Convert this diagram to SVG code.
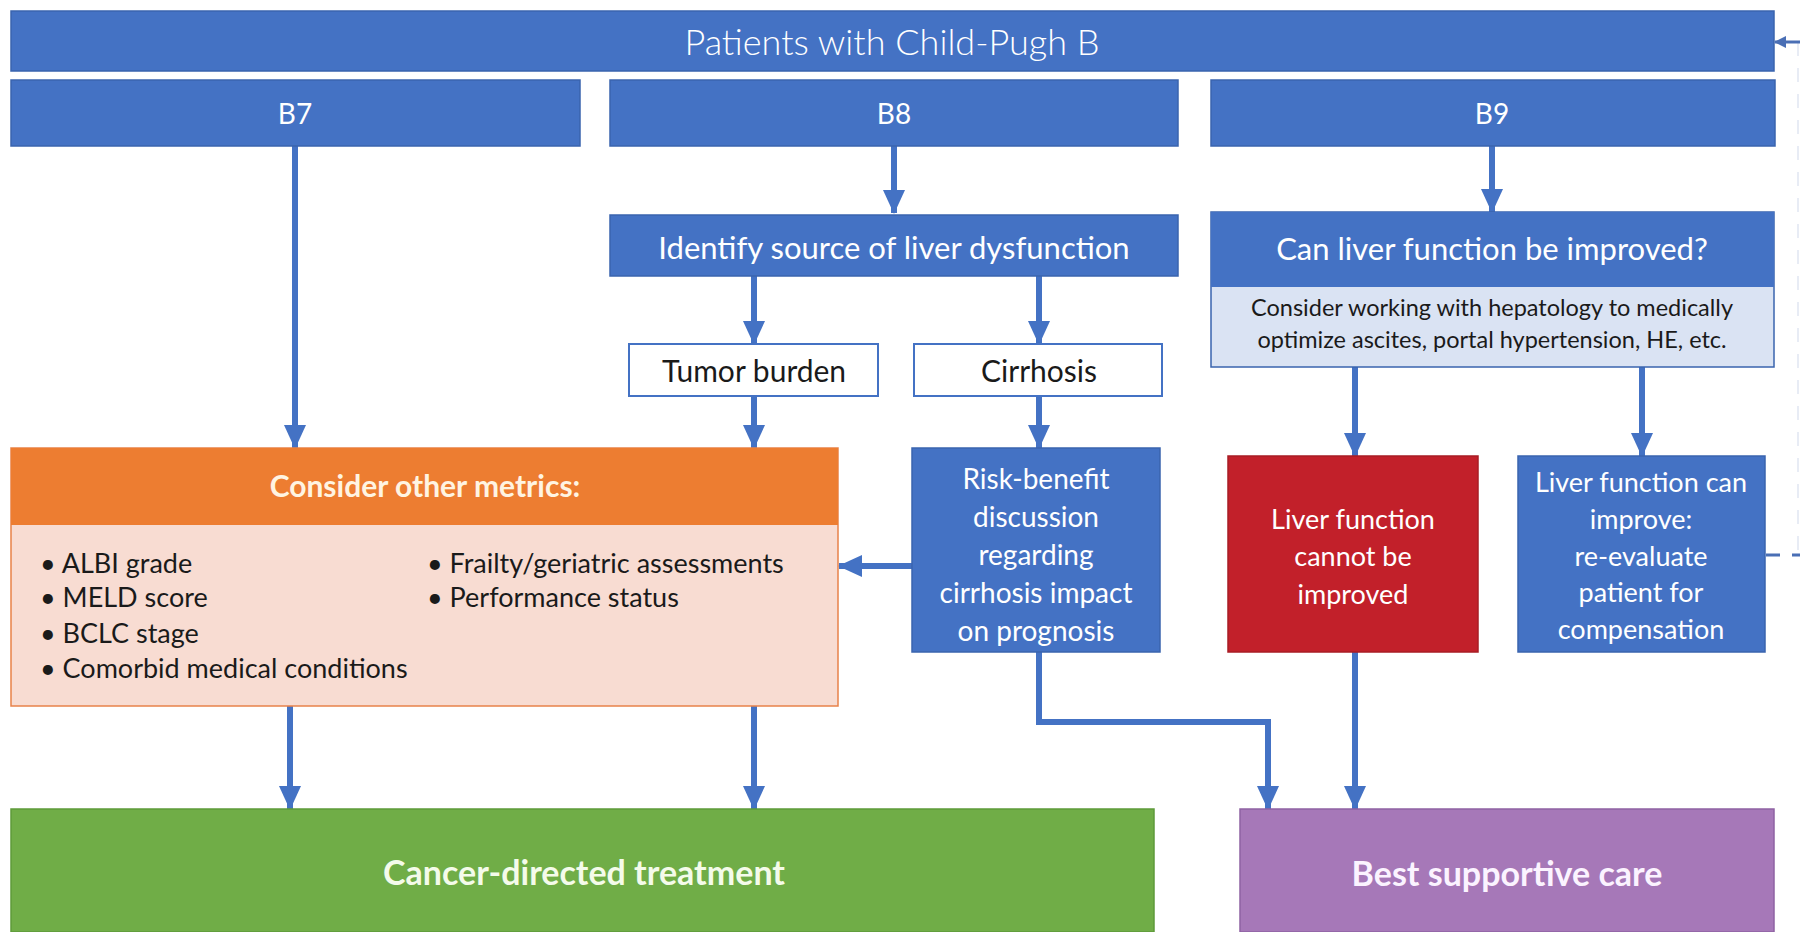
<svg xmlns="http://www.w3.org/2000/svg" width="1800" height="932" viewBox="0 0 1800 932">
<style>
text{font-family:Lato,"Open Sans","Liberation Sans",sans-serif;}
.blue{fill:#4472C4;stroke:#3A64AE;stroke-width:1.5;}
.wbox{fill:#ffffff;stroke:#4472C4;stroke-width:2;}
.lt{fill:#ffffff;text-anchor:middle;}
.dk{fill:#1a1a1a;text-anchor:middle;}
.bul{fill:#1a1a1a;font-size:27px;}
.conn{stroke:#4472C4;stroke-width:6;fill:none;}
</style>
<defs>
<marker id="ah" viewBox="0 0 24 22" refX="23" refY="11" markerWidth="24" markerHeight="22" markerUnits="userSpaceOnUse" orient="auto">
<path d="M0,0 L24,11 L0,22 z" fill="#4472C4"/>
</marker>
<marker id="ahs" viewBox="0 0 12 12" refX="11" refY="6" markerWidth="12" markerHeight="12" markerUnits="userSpaceOnUse" orient="auto">
<path d="M0,0 L12,6 L0,12 z" fill="#4A6FB5"/>
</marker>
</defs>
<rect width="1800" height="932" fill="#ffffff"/>

<g id="connectors">
<line class="conn" x1="295" y1="146" x2="295" y2="448" marker-end="url(#ah)"/>
<line class="conn" x1="894" y1="146" x2="894" y2="213" marker-end="url(#ah)"/>
<line class="conn" x1="1492" y1="146" x2="1492" y2="212" marker-end="url(#ah)"/>
<line class="conn" x1="754" y1="276" x2="754" y2="344" marker-end="url(#ah)"/>
<line class="conn" x1="1039" y1="276" x2="1039" y2="344" marker-end="url(#ah)"/>
<line class="conn" x1="754" y1="396" x2="754" y2="448" marker-end="url(#ah)"/>
<line class="conn" x1="1039" y1="396" x2="1039" y2="448" marker-end="url(#ah)"/>
<line class="conn" x1="912" y1="566" x2="839" y2="566" marker-end="url(#ah)"/>
<line class="conn" x1="1355" y1="367" x2="1355" y2="456" marker-end="url(#ah)"/>
<line class="conn" x1="1642" y1="367" x2="1642" y2="456" marker-end="url(#ah)"/>
<line class="conn" x1="290" y1="706" x2="290" y2="809" marker-end="url(#ah)"/>
<line class="conn" x1="754" y1="706" x2="754" y2="809" marker-end="url(#ah)"/>
<polyline class="conn" points="1039,652 1039,722 1268,722 1268,809" marker-end="url(#ah)"/>
<line class="conn" x1="1355" y1="652" x2="1355" y2="809" marker-end="url(#ah)"/>
<line x1="1766" y1="555" x2="1800" y2="555" stroke="#4A6FB5" stroke-width="3" stroke-dasharray="14,12"/>
<line x1="1798" y1="42" x2="1798" y2="555" stroke="#E8ECF5" stroke-width="2" stroke-dasharray="14,12"/>
<line x1="1800" y1="42" x2="1775" y2="42" stroke="#4A6FB5" stroke-width="3" marker-end="url(#ahs)"/>
</g>

<g id="top">
<rect class="blue" x="11" y="11" width="1763" height="60"/>
<text class="lt" x="892" y="55" font-size="36" font-weight="300">Patients with Child-Pugh B</text>
</g>
<g id="b7">
<rect class="blue" x="11" y="80" width="569" height="66"/>
<text class="lt" x="295" y="124" font-size="28">B7</text>
</g>
<g id="b8">
<rect class="blue" x="610" y="80" width="568" height="66"/>
<text class="lt" x="894" y="124" font-size="28">B8</text>
</g>
<g id="b9">
<rect class="blue" x="1211" y="80" width="564" height="66"/>
<text class="lt" x="1492" y="124" font-size="28">B9</text>
</g>
<g id="identify">
<rect class="blue" x="610" y="215" width="568" height="61"/>
<text class="lt" x="894" y="259" font-size="31">Identify source of liver dysfunction</text>
</g>
<g id="tumor">
<rect class="wbox" x="629" y="344" width="249" height="52"/>
<text class="dk" x="754" y="382" font-size="30">Tumor burden</text>
</g>
<g id="cirrhosis">
<rect class="wbox" x="914" y="344" width="248" height="52"/>
<text class="dk" x="1039" y="382" font-size="30">Cirrhosis</text>
</g>
<g id="canimprove">
<rect x="1211" y="212" width="563" height="155" fill="#DAE3F3" stroke="#3A64AE" stroke-width="1.5"/>
<rect x="1211" y="212" width="563" height="75" fill="#4472C4"/>
<text class="lt" x="1492" y="260" font-size="31">Can liver function be improved?</text>
<text class="dk" x="1492" y="316" font-size="23.5">Consider working with hepatology to medically</text>
<text class="dk" x="1492" y="348" font-size="23.5">optimize ascites, portal hypertension, HE, etc.</text>
</g>
<g id="metrics">
<rect x="11" y="448" width="827" height="258" fill="#F8DCD2" stroke="#E8824A" stroke-width="1.5"/>
<rect x="11" y="448" width="827" height="77" fill="#ED7D31"/>
<text x="425" y="497" font-size="30" font-weight="bold" fill="#FFF4E2" text-anchor="middle">Consider other metrics:</text>
<text class="bul" x="40" y="573">• ALBI grade</text>
<text class="bul" x="40" y="607">• MELD score</text>
<text class="bul" x="40" y="643">• BCLC stage</text>
<text class="bul" x="40" y="678">• Comorbid medical conditions</text>
<text class="bul" x="427" y="573">• Frailty/geriatric assessments</text>
<text class="bul" x="427" y="607">• Performance status</text>
</g>
<g id="riskbenefit">
<rect class="blue" x="912" y="448" width="248" height="204"/>
<text class="lt" font-size="28"><tspan x="1036" y="489">Risk-benefit</tspan><tspan x="1036" y="527">discussion</tspan><tspan x="1036" y="565">regarding</tspan><tspan x="1036" y="603">cirrhosis impact</tspan><tspan x="1036" y="641">on prognosis</tspan></text>
</g>
<g id="cannot">
<rect x="1228" y="456" width="250" height="196" fill="#C2202A" stroke="#A81C24" stroke-width="1.5"/>
<text class="lt" font-size="27"><tspan x="1353" y="529">Liver function</tspan><tspan x="1353" y="566">cannot be</tspan><tspan x="1353" y="604">improved</tspan></text>
</g>
<g id="canimprove2">
<rect class="blue" x="1518" y="456" width="247" height="196"/>
<text class="lt" font-size="27"><tspan x="1641" y="492">Liver function can</tspan><tspan x="1641" y="529">improve:</tspan><tspan x="1641" y="566">re-evaluate</tspan><tspan x="1641" y="602">patient for</tspan><tspan x="1641" y="639">compensation</tspan></text>
</g>
<g id="cancer">
<rect x="11" y="809" width="1143" height="123" fill="#70AD47" stroke="#5E9A3A" stroke-width="1.5"/>
<text x="584" y="885" font-size="34" font-weight="bold" fill="#F4FBEA" text-anchor="middle">Cancer-directed treatment</text>
</g>
<g id="bsc">
<rect x="1240" y="809" width="534" height="123" fill="#A678B8" stroke="#8E62A3" stroke-width="1.5"/>
<text x="1507" y="886" font-size="34" font-weight="bold" fill="#FBF3FF" text-anchor="middle">Best supportive care</text>
</g>
</svg>
